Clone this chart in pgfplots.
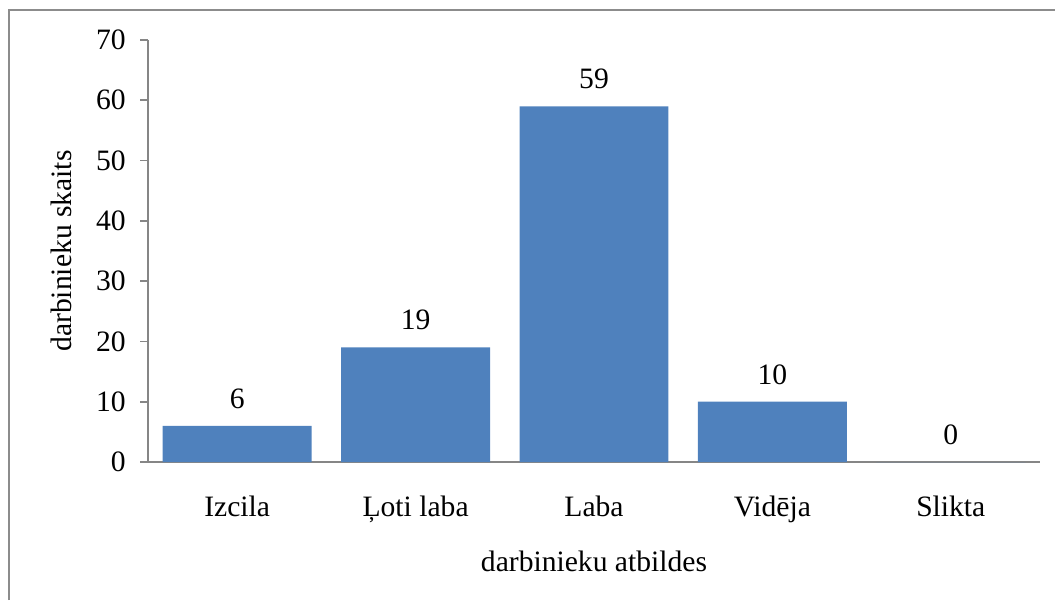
\documentclass[border=0pt]{standalone}
\usepackage{fontspec}
\setmainfont{Liberation Serif}
\usepackage{pgfplots}
\pgfplotsset{compat=1.18}
\definecolor{barblue}{HTML}{4F81BD}
\definecolor{axgray}{HTML}{868686}
\definecolor{framegray}{HTML}{8C8C8C}
\begin{document}
\fontsize{14.8pt}{17.8pt}\selectfont
\begin{tikzpicture}
\path[use as bounding box] (0pt,0pt) rectangle (527.5pt,300pt);
\draw[framegray, line width=1pt] (4.5pt,0pt) -- (4.5pt,295pt) -- (527.5pt,295pt);
\begin{axis}[
  at={(74pt,69pt)}, anchor=south west,
  scale only axis, width=446pt, height=211pt,
  /pgf/number format/assume math mode=true,
  xmin=-0.5, xmax=4.5, ymin=0, ymax=70,
  ytick={0,10,...,70},
  xtick={0,1,2,3,4},
  xticklabels={Izcila, Ļoti laba, Laba, Vidēja, Slikta},
  axis lines*=left,
  axis line style={axgray, line width=1pt},
  tick align=outside,
  major tick length=4pt,
  xtick style={draw=none},
  ytick style={axgray, line width=0.8pt},
  yticklabel style={anchor=east, xshift=-2pt},
  xticklabel style={yshift=-8pt},
  ylabel={darbinieku skaits},
  xlabel={darbinieku atbildes},
  ylabel style={at={(axis description cs:-0.097,0.5)}, anchor=center},
  xlabel style={at={(axis description cs:0.5,-0.2346)}, anchor=center},
  ybar, bar width=0.835,
  nodes near coords,
  nodes near coords style={anchor=south, yshift=3.5pt, text=black},
  clip=false,
]
\addplot[fill=barblue, draw=none] coordinates {(0,6) (1,19) (2,59) (3,10) (4,0)};
\end{axis}
\end{tikzpicture}
\end{document}
